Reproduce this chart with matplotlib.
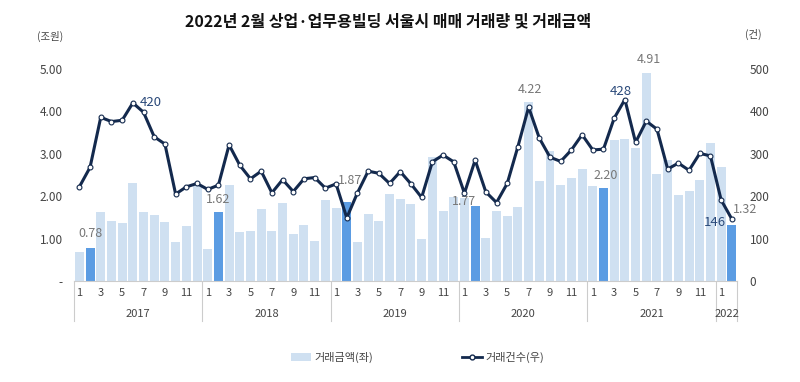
import numpy as np
import matplotlib.pyplot as plt
import matplotlib.transforms as mtransforms
from matplotlib.patches import Patch
from matplotlib.lines import Line2D

plt.rcParams['font.family'] = ['Noto Sans CJK KR', 'DejaVu Sans']

# monthly data, Jan 2017 - Feb 2022
amount = [0.68, 0.78, 1.62, 1.42, 1.36, 2.30, 1.62, 1.55, 1.39, 0.91, 1.29, 2.24,   # 2017
          0.76, 1.62, 2.26, 1.15, 1.18, 1.70, 1.18, 1.85, 1.11, 1.31, 0.94, 1.90,   # 2018
          1.72, 1.87, 0.91, 1.58, 1.42, 2.05, 1.94, 1.81, 0.99, 2.92, 1.64, 1.98,   # 2019
          1.95, 1.77, 1.01, 1.66, 1.53, 1.75, 4.22, 2.37, 3.07, 2.26, 2.43, 2.64,   # 2020
          2.24, 2.20, 3.33, 3.36, 3.14, 4.91, 2.53, 2.86, 2.02, 2.12, 2.38, 3.25,   # 2021
          2.68, 1.32]                                                               # 2022
counts = [222, 268, 386, 376, 379, 420, 398, 340, 323, 205, 222, 230,
          216, 226, 321, 273, 241, 259, 208, 239, 211, 241, 244, 219,
          229, 149, 208, 259, 254, 230, 258, 229, 197, 281, 297, 281,
          207, 285, 210, 185, 230, 317, 410, 337, 292, 282, 309, 345,
          309, 311, 384, 428, 327, 377, 358, 264, 278, 261, 301, 295,
          191, 146]
years = ['2017', '2018', '2019', '2020', '2021', '2022']
months = [m for y in years for m in range(1, 13)][:len(amount)]

# which bars get a value label, and where the label sits (x, y in data units)
amount_labels = {1: (1, 1.11), 13: (13, 1.93), 25: (25.35, 2.36), 37: (36.0, 1.87),
                 42: (42.1, 4.52), 49: (49.2, 2.49), 53: (53.2, 5.22), 61: (61.1, 1.69)}

light = '#cfe0f1'
dark = '#5b9ce3'
navy = '#13294d'

x = np.arange(len(amount))
colors = [dark if m == 2 else light for m in months]

fig = plt.figure(figsize=(8, 3.82), dpi=100)
ax = fig.add_axes([0.0925, 0.2644, 0.829, 0.555])
ax2 = ax.twinx()

ax.bar(x, amount, width=0.84, color=colors, zorder=1)
ax2.plot(x, counts, color=navy, lw=2.2, marker='o', ms=3.5,
         mfc='white', mec=navy, mew=0.8, zorder=3)

ax.set_xlim(-0.5, len(amount) - 0.5)
ax.set_ylim(0, 5)
ax2.set_ylim(0, 500)

for a in (ax, ax2):
    for s in a.spines.values():
        s.set_visible(False)
ax.spines['bottom'].set_visible(True)
ax.spines['bottom'].set_color('#cccccc')

ax.set_yticks(range(6))
ax.set_yticklabels(['-'] + ['%.2f' % v for v in range(1, 6)])
ax2.set_yticks(range(0, 501, 100))
ax.tick_params(axis='y', length=0, pad=8, labelsize=8.5, labelcolor='#444444')
ax2.tick_params(axis='y', length=0, pad=9, labelsize=8.5, labelcolor='#444444')

tick_idx = [i for i in x if months[i] % 2 == 1]
ax.set_xticks(tick_idx)
ax.set_xticklabels([str(months[i]) for i in tick_idx])
ax.tick_params(axis='x', length=0, pad=5, labelsize=8, labelcolor='#444444')

# year separators and labels
trans = mtransforms.blended_transform_factory(ax.transData, ax.transAxes)
bounds = [-0.5] + [i - 0.5 for i in x if months[i] == 1 and i > 0] + [len(amount) - 0.5]
for b in bounds:
    ax.plot([b, b], [0, -0.19], transform=trans, color='#cccccc', lw=0.8, clip_on=False)
for k, yr in enumerate(years):
    idx = [i for i in x if i // 12 == k]
    ax.text(np.mean(idx), -0.155, yr, transform=trans, ha='center', va='center',
            fontsize=8, color='#444444')

# value labels
for i, (lx, ly) in amount_labels.items():
    ax.text(lx, ly, '%.2f' % amount[i], ha='left' if i == 61 else 'center', va='center',
            fontsize=9, color='#777777')

ax2.text(5 + 0.6, counts[5], str(counts[5]), ha='left', va='center', fontsize=9.5, color='#2b4a7a')
ax2.text(50.6, counts[51] + 20, str(counts[51]), ha='center', va='center', fontsize=9.5, color='#2b4a7a')
ax2.text(61 - 0.6, counts[61] - 8, str(counts[61]), ha='right', va='center', fontsize=9.5, color='#2b4a7a')

fig.text(0.485, 0.945, '2022년 2월 상업·업무용빌딩 서울시 매매 거래량 및 거래금액',
         ha='center', va='center', fontsize=11.5, fontweight='bold', color='#111111')
fig.text(0.063, 0.905, '(조원)', ha='center', va='center', fontsize=7.5, color='#444444')
fig.text(0.942, 0.91, '(건)', ha='center', va='center', fontsize=7.5, color='#444444')

handles = [Patch(facecolor=light, edgecolor='none'),
           Line2D([], [], color=navy, lw=2, marker='o', ms=3.5, mfc='white', mec=navy)]
fig.legend(handles, ['거래금액(좌)', '거래건수(우)'], loc='center', bbox_to_anchor=(0.522, 0.065),
           ncol=2, frameon=False, fontsize=8, columnspacing=8, handlelength=1.8,
           handletextpad=0.3, handleheight=0.8, labelcolor='#444444')

fig.savefig('out.png', dpi=100)
